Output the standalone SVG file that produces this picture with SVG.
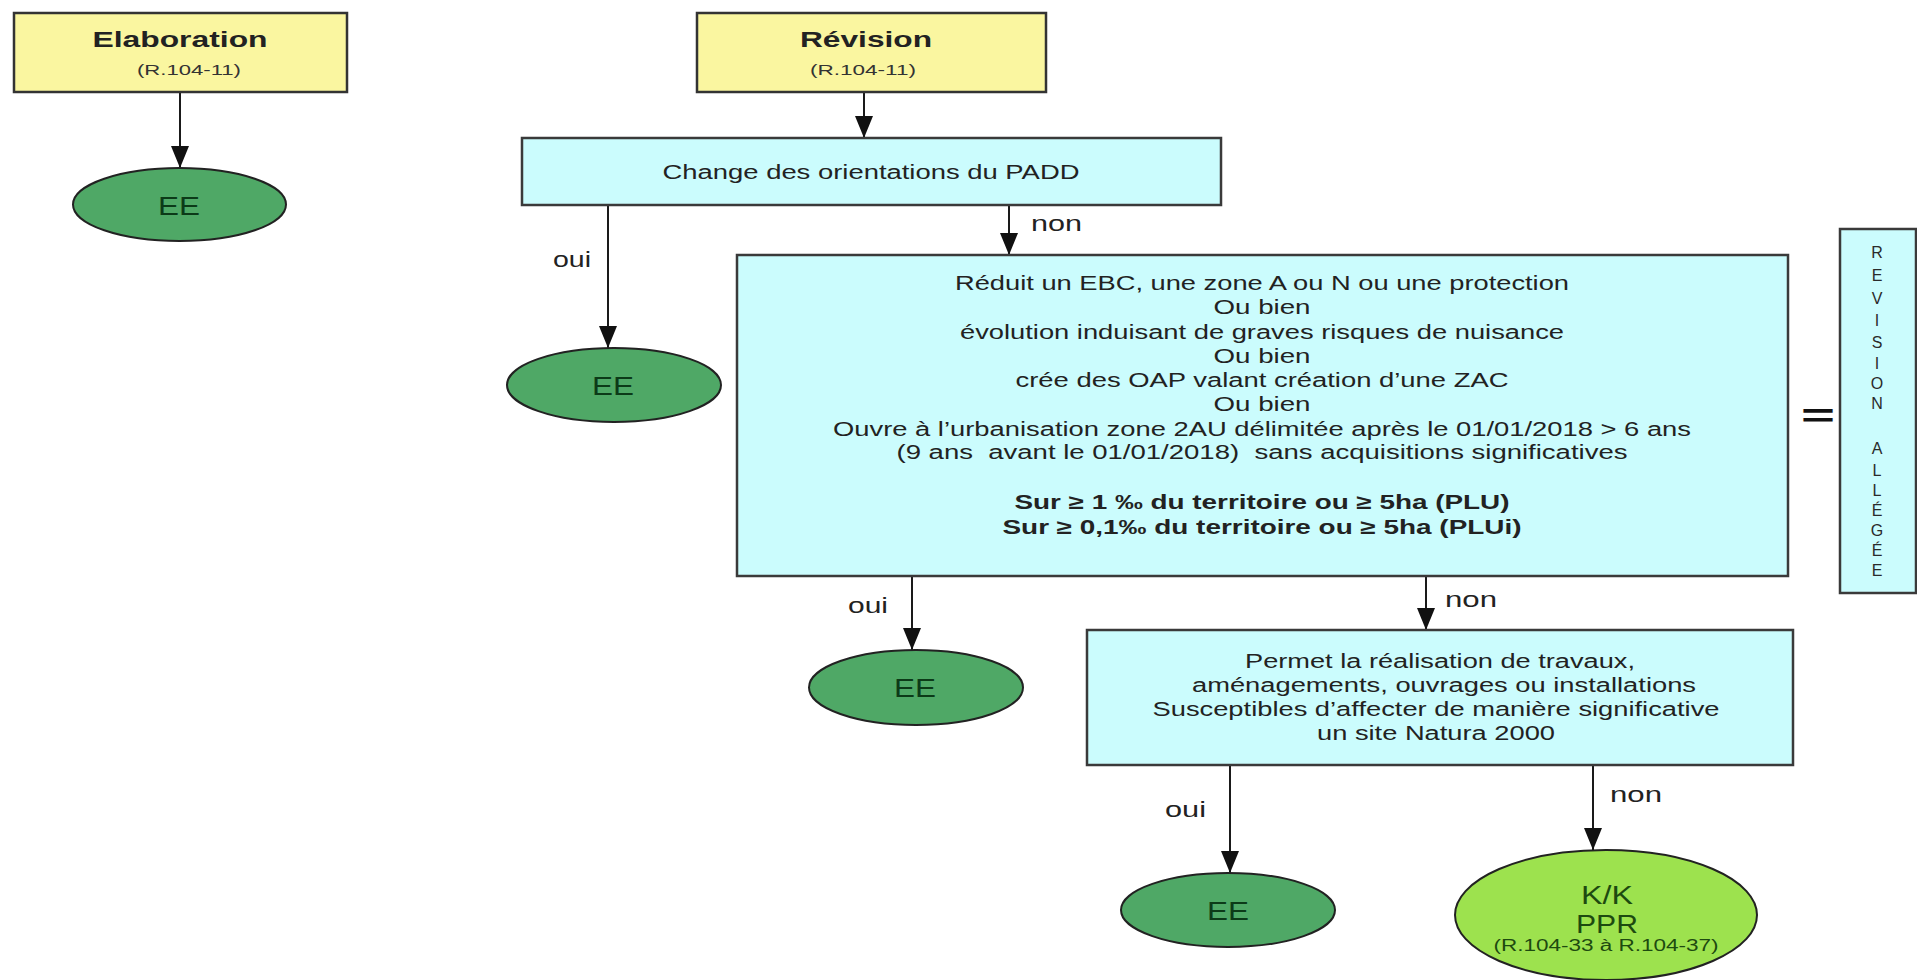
<svg xmlns="http://www.w3.org/2000/svg" width="1917" height="980" viewBox="0 0 1917 980">
  <style>
    .title { font-family: "Liberation Sans", Arial, sans-serif; font-weight: bold; font-size: 22px; fill: #222; text-anchor: middle; }
    .ref { font-family: "Liberation Sans", Arial, sans-serif; font-size: 14px; fill: #333; text-anchor: middle; }
    .yellow { fill: #FAF6A0; stroke: #333; stroke-width: 2.5; }
    .cyan { fill: #CBFCFD; stroke: #3a3a3a; stroke-width: 2.5; }
    .ee { fill: #4FA866; stroke: #222; stroke-width: 2; }
    .ee-t { font-family: "Liberation Sans", Arial, sans-serif; font-size: 25px; fill: #0c3a18; text-anchor: middle; }
    .kk { fill: #9DE24E; stroke: #222; stroke-width: 2; }
    .kk-t { font-family: "Liberation Sans", Arial, sans-serif; font-size: 26px; fill: #1d4a10; text-anchor: middle; }
    .kk-r { font-family: "Liberation Sans", Arial, sans-serif; font-size: 16px; fill: #1d4a10; text-anchor: middle; }
    .body { font-family: "Liberation Sans", Arial, sans-serif; font-size: 20px; fill: #222; text-anchor: middle; }
    .bold { font-weight: bold; }
    .lbl { font-family: "Liberation Sans", Arial, sans-serif; font-size: 22px; fill: #222; }
    .vert { font-family: "Liberation Sans", Arial, sans-serif; font-size: 16px; fill: #2a2a2a; text-anchor: middle; }
    .link { stroke: #1a1a1a; stroke-width: 2; fill: none; marker-end: url(#arrow); }
  </style>
  <defs>
    <marker id="arrow" markerUnits="userSpaceOnUse" viewBox="0 0 22 18" markerWidth="22" markerHeight="18" refX="22" refY="9" orient="auto">
      <path d="M0,0 L22,9 L0,18 Z" fill="#111"/>
    </marker>
  </defs>

  <rect width="1917" height="980" fill="#ffffff"/>

  <!-- connectors -->
  <g id="connectors">
    <line class="link" x1="180" y1="93" x2="180" y2="168"/>
    <line class="link" x1="864" y1="93" x2="864" y2="138"/>
    <line class="link" x1="608" y1="205" x2="608" y2="348"/>
    <line class="link" x1="1009" y1="205" x2="1009" y2="255"/>
    <line class="link" x1="912" y1="576" x2="912" y2="650"/>
    <line class="link" x1="1426" y1="576" x2="1426" y2="630"/>
    <line class="link" x1="1230" y1="765" x2="1230" y2="873"/>
    <line class="link" x1="1593" y1="765" x2="1593" y2="850"/>
    <text class="lbl" x="553" y="267" textLength="38" lengthAdjust="spacingAndGlyphs">oui</text>
    <text class="lbl" x="1031" y="231" textLength="51" lengthAdjust="spacingAndGlyphs">non</text>
    <text class="lbl" x="848" y="613" textLength="40" lengthAdjust="spacingAndGlyphs">oui</text>
    <text class="lbl" x="1445" y="607" textLength="52" lengthAdjust="spacingAndGlyphs">non</text>
    <text class="lbl" x="1165" y="817" textLength="41" lengthAdjust="spacingAndGlyphs">oui</text>
    <text class="lbl" x="1610" y="802" textLength="52" lengthAdjust="spacingAndGlyphs">non</text>
  </g>

  <!-- starting procedures -->
  <g id="elaboration">
    <rect class="yellow" x="14" y="13" width="333" height="79"/>
    <text class="title" x="180" y="47" textLength="175" lengthAdjust="spacingAndGlyphs">Elaboration</text>
    <text class="ref" x="189" y="75" textLength="104" lengthAdjust="spacingAndGlyphs">(R.104-11)</text>
  </g>
  <g id="revision">
    <rect class="yellow" x="697" y="13" width="349" height="79"/>
    <text class="title" x="866" y="47" textLength="132" lengthAdjust="spacingAndGlyphs">Révision</text>
    <text class="ref" x="863" y="75" textLength="106" lengthAdjust="spacingAndGlyphs">(R.104-11)</text>
  </g>

  <!-- environmental assessment outcomes -->
  <g id="ee-elaboration">
    <ellipse class="ee" cx="179.5" cy="204.5" rx="106.5" ry="36.5"/>
    <text class="ee-t" x="179" y="215" textLength="42" lengthAdjust="spacingAndGlyphs">EE</text>
  </g>
  <g id="ee-padd">
    <ellipse class="ee" cx="614" cy="385" rx="107" ry="37"/>
    <text class="ee-t" x="613" y="395" textLength="42" lengthAdjust="spacingAndGlyphs">EE</text>
  </g>
  <g id="ee-criteria">
    <ellipse class="ee" cx="916" cy="687.5" rx="107" ry="37.5"/>
    <text class="ee-t" x="915" y="697" textLength="42" lengthAdjust="spacingAndGlyphs">EE</text>
  </g>
  <g id="ee-natura">
    <ellipse class="ee" cx="1228" cy="910" rx="107" ry="37"/>
    <text class="ee-t" x="1228" y="920" textLength="42" lengthAdjust="spacingAndGlyphs">EE</text>
  </g>

  <!-- decision boxes -->
  <g id="padd">
    <rect class="cyan" x="522" y="138" width="699" height="67"/>
    <text class="body" x="871" y="179" textLength="417" lengthAdjust="spacingAndGlyphs">Change des orientations du PADD</text>
  </g>

  <g id="criteria">
    <rect class="cyan" x="737" y="255" width="1051" height="321"/>
    <text class="body" x="1262" y="290" textLength="614" lengthAdjust="spacingAndGlyphs">Réduit un EBC, une zone A ou N ou une protection</text>
    <text class="body" x="1262" y="314" textLength="97" lengthAdjust="spacingAndGlyphs">Ou bien</text>
    <text class="body" x="1262" y="339" textLength="604" lengthAdjust="spacingAndGlyphs">évolution induisant de graves risques de nuisance</text>
    <text class="body" x="1262" y="363" textLength="97" lengthAdjust="spacingAndGlyphs">Ou bien</text>
    <text class="body" x="1262" y="387" textLength="493" lengthAdjust="spacingAndGlyphs">crée des OAP valant création d’une ZAC</text>
    <text class="body" x="1262" y="411" textLength="97" lengthAdjust="spacingAndGlyphs">Ou bien</text>
    <text class="body" x="1262" y="436" textLength="858" lengthAdjust="spacingAndGlyphs">Ouvre à l’urbanisation zone 2AU délimitée après le 01/01/2018 &gt; 6 ans</text>
    <text class="body" x="1262" y="459" textLength="731" lengthAdjust="spacingAndGlyphs" xml:space="preserve">(9 ans  avant le 01/01/2018)  sans acquisitions significatives</text>
    <text class="body bold" x="1262" y="509" textLength="495" lengthAdjust="spacingAndGlyphs">Sur ≥ 1 ‰ du territoire ou ≥ 5ha (PLU)</text>
    <text class="body bold" x="1262" y="534" textLength="519" lengthAdjust="spacingAndGlyphs">Sur ≥ 0,1‰ du territoire ou ≥ 5ha (PLUi)</text>
  </g>

  <g id="equals">
    <text x="1801" y="427" font-family="'Liberation Sans', Arial, sans-serif" font-weight="bold" font-size="34" fill="#111" textLength="34" lengthAdjust="spacingAndGlyphs">=</text>
  </g>

  <g id="revision-allegee">
    <rect class="cyan" x="1840" y="229" width="76" height="364"/>
    <text class="vert" x="1877" y="258">R</text>
    <text class="vert" x="1877" y="281">E</text>
    <text class="vert" x="1877" y="304">V</text>
    <text class="vert" x="1877" y="326">I</text>
    <text class="vert" x="1877" y="348">S</text>
    <text class="vert" x="1877" y="369">I</text>
    <text class="vert" x="1877" y="389">O</text>
    <text class="vert" x="1877" y="409">N</text>
    <text class="vert" x="1877" y="454">A</text>
    <text class="vert" x="1877" y="476">L</text>
    <text class="vert" x="1877" y="496">L</text>
    <text class="vert" x="1877" y="516">É</text>
    <text class="vert" x="1877" y="536">G</text>
    <text class="vert" x="1877" y="556">É</text>
    <text class="vert" x="1877" y="576">E</text>
  </g>

  <g id="natura">
    <rect class="cyan" x="1087" y="630" width="706" height="135"/>
    <text class="body" x="1440" y="668" textLength="390" lengthAdjust="spacingAndGlyphs">Permet la réalisation de travaux,</text>
    <text class="body" x="1444" y="692" textLength="504" lengthAdjust="spacingAndGlyphs">aménagements, ouvrages ou installations</text>
    <text class="body" x="1436" y="716" textLength="567" lengthAdjust="spacingAndGlyphs">Susceptibles d’affecter de manière significative</text>
    <text class="body" x="1436" y="740" textLength="238" lengthAdjust="spacingAndGlyphs">un site Natura 2000</text>
  </g>

  <g id="cas-par-cas">
    <ellipse class="kk" cx="1606" cy="915" rx="151" ry="65"/>
    <text class="kk-t" x="1607" y="904" textLength="52" lengthAdjust="spacingAndGlyphs">K/K</text>
    <text class="kk-t" x="1607" y="933" textLength="62" lengthAdjust="spacingAndGlyphs">PPR</text>
    <text class="kk-r" x="1606" y="951" textLength="225" lengthAdjust="spacingAndGlyphs">(R.104-33 à R.104-37)</text>
  </g>
</svg>
